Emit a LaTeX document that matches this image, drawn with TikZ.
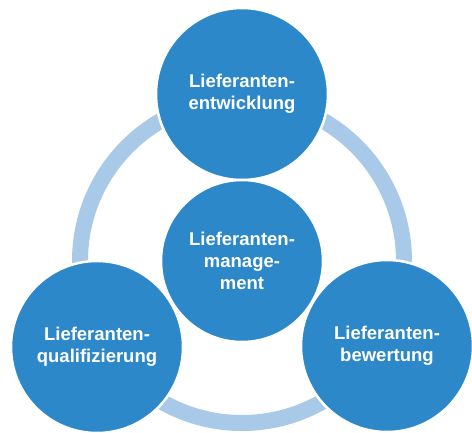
\documentclass[tikz,border=0pt]{standalone}
\usepackage{fontspec}
\setmainfont{Liberation Sans}
\usetikzlibrary{calc}
\definecolor{kreisblau}{HTML}{2C88C8}
\definecolor{ringblau}{HTML}{A9C9E8}
\tikzset{
  phase/.style={circle, fill=kreisblau, draw=white, line width=2.5pt,
    minimum size=172pt, inner sep=0pt, align=center, text=white,
    font=\bfseries\fontsize{18.5}{22}\selectfont},
  kern/.style={phase, minimum size=162pt}
}
\begin{document}
\begin{tikzpicture}[x=1pt,y=-1pt]
	\useasboundingbox (0,0) rectangle (472,432);
	% Kreislauf im Hintergrund
	\coordinate (mitte) at (242,261);
	\draw[ringblau, line width=16pt] (mitte) circle (162);
	% die drei Phasen
	\node[phase] (entw) at ($(mitte)+(0,-167)$) {Lieferanten-\\entwicklung};
	\node[phase] (qual) at ($(mitte)+(-145,86)$) {Lieferanten-\\qualifizierung};
	\node[phase] (bew)  at ($(mitte)+(145,85)$) {Lieferanten-\\bewertung};
	% Kern
	\node[kern] (mgmt) at (mitte) {Lieferanten-\\manage-\\ment};
\end{tikzpicture}
\end{document}
